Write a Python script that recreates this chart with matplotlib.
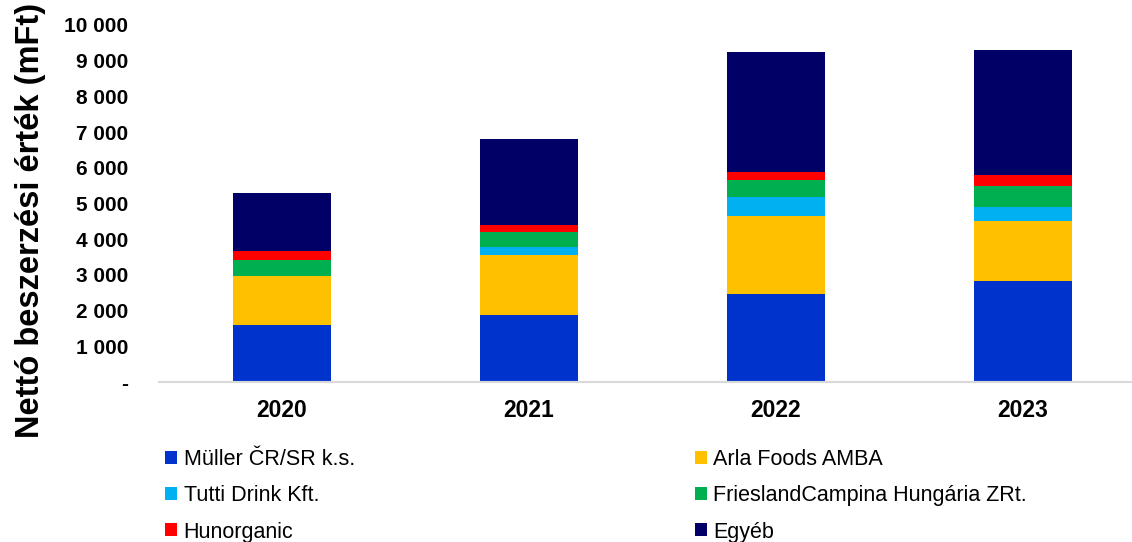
import numpy as np
import matplotlib
matplotlib.use('Agg')
import matplotlib.pyplot as plt
from matplotlib.ticker import FuncFormatter

plt.rcParams['font.family'] = ['Liberation Sans', 'DejaVu Sans']

years = ['2020', '2021', '2022', '2023']
series_names = ['Müller ČR/SR k.s.', 'Arla Foods AMBA', 'Tutti Drink Kft.',
                'FrieslandCampina Hungária ZRt.', 'Hunorganic', 'Egyéb']
muller = [1590, 1890, 2470, 2840]
arla = [1370, 1668, 2179, 1657]
tutti = [0, 232, 531, 391]
friesland = [466, 399, 475, 598]
hunorganic = [232, 195, 223, 324]
egyeb = [1629, 2414, 3352, 3483]
colors = ['#0033CC', '#FFC000', '#00B0F0', '#00B050', '#FF0000', '#000066']

fig = plt.figure(figsize=(11.32, 5.42), dpi=100)
ax = fig.add_axes([158.5 / 1132, 1 - 382 / 542, (1132 - 158.5) / 1132, (382 - 25) / 542])

x = np.arange(len(years))
bottom = np.zeros(len(years))
handles = []
for name, vals, c in zip(series_names, [muller, arla, tutti, friesland, hunorganic, egyeb], colors):
    b = ax.bar(x, vals, 0.4, bottom=bottom, color=c, label=name)
    handles.append(b)
    bottom += np.array(vals)

ax.set_xlim(-0.5, -0.5 + (1132 - 158.5) / 247)
ax.set_ylim(0, 10000)
ax.set_yticks(range(0, 10001, 1000))
ax.yaxis.set_major_formatter(FuncFormatter(lambda v, p: '-' if v == 0 else f'{int(v):,}'.replace(',', ' ')))
ax.set_xticks(x)
ax.set_xticklabels(years)
for lab in ax.get_yticklabels():
    lab.set_fontweight('bold')
    lab.set_fontsize(15)
for lab in ax.get_xticklabels():
    lab.set_fontweight('bold')
    lab.set_fontsize(16.5)
ax.tick_params(axis='y', length=0, pad=22)
ax.tick_params(axis='x', length=0, pad=12)
for s in ['top', 'right', 'left']:
    ax.spines[s].set_visible(False)
ax.spines['bottom'].set_color('#d9d9d9')
ax.spines['bottom'].set_linewidth(1.5)

fig.text(0.027, 1 - 220 / 542, 'Nettó beszerzési érték (mFt)', rotation=90, fontsize=23.5,
         fontweight='bold', ha='center', va='center')

order = [0, 2, 4, 1, 3, 5]
fig.legend([handles[i] for i in order], [series_names[i] for i in order],
           ncol=2, loc='upper left', bbox_to_anchor=(146 / 1132, 1 - 430 / 542),
           frameon=False, fontsize=15.5, handlelength=0.55, handleheight=0.55,
           handletextpad=0.3, columnspacing=15.8, labelspacing=0.7)

fig.savefig('out.png', dpi=100)
